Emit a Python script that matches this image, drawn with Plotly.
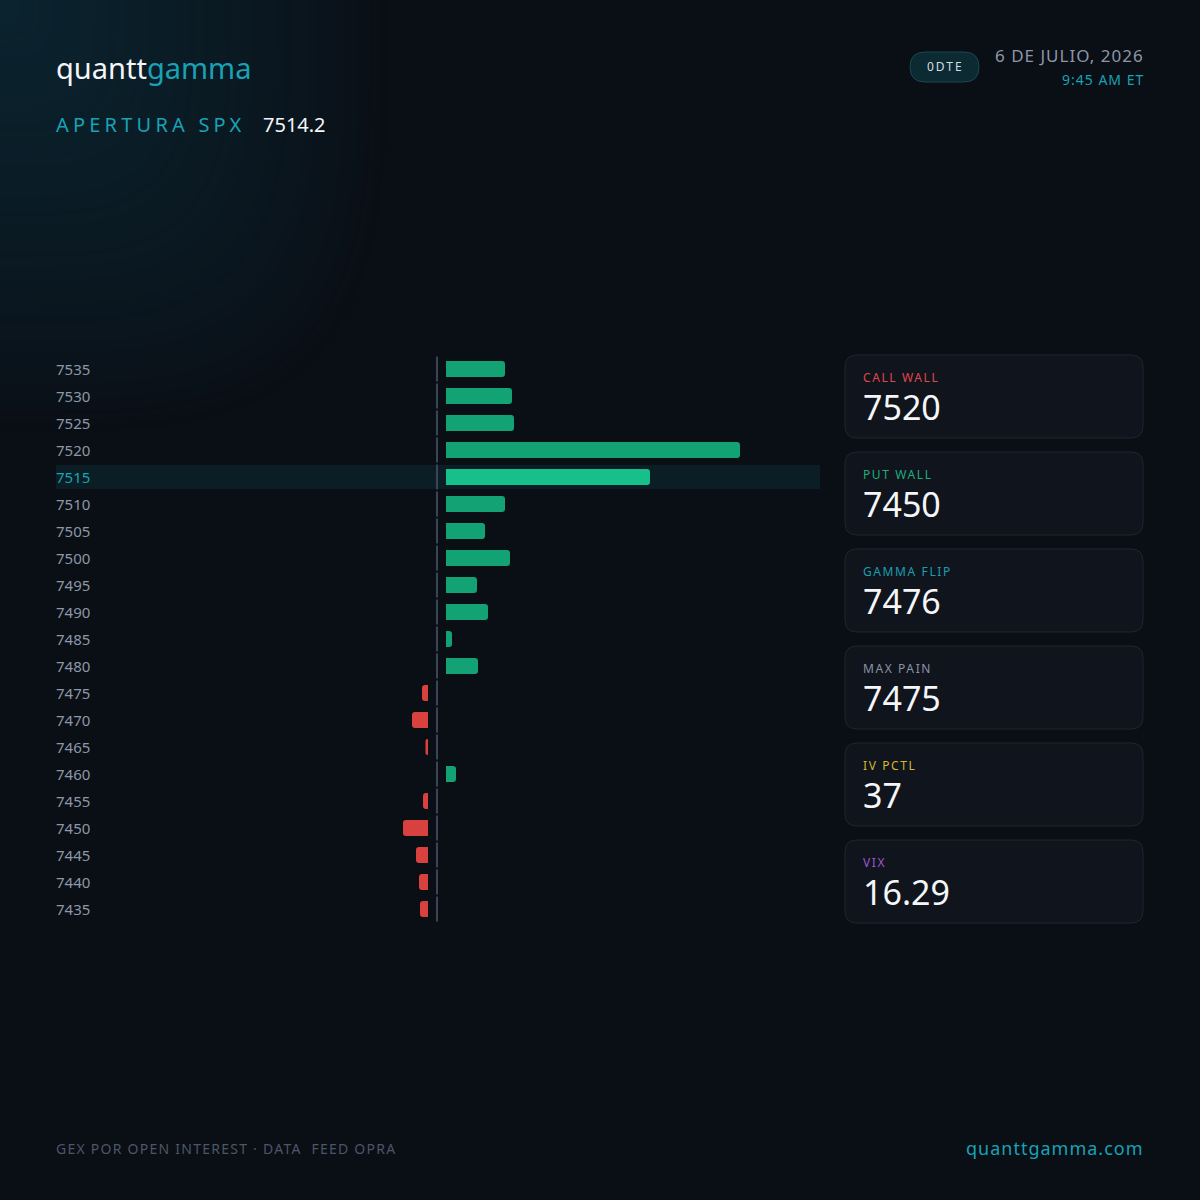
import base64, struct, zlib
import numpy as np
import plotly.graph_objects as go

# ---------------- data ----------------
strikes = [7535, 7530, 7525, 7520, 7515, 7510, 7505, 7500, 7495, 7490, 7485,
           7480, 7475, 7470, 7465, 7460, 7455, 7450, 7445, 7440, 7435]
gex = [5.9, 6.6, 6.8, 29.4, 20.4, 5.9, 3.9, 6.4, 3.1, 4.2, 0.6,
       3.2, -0.6, -1.6, -0.25, 1.0, -0.5, -2.5, -1.2, -0.9, -0.8]
spot_strike = 7515
spot_price = "7514.2"
card_labels = ["CALL WALL", "PUT WALL", "GAMMA FLIP", "MAX PAIN", "IV PCTL", "VIX"]
card_values = ["7520", "7450", "7476", "7475", "37", "16.29"]
card_colors = ["#e0474c", "#1fae7e", "#1a9fb0", "#8a94a6", "#d4b62c", "#9b59d0"]

W = H = 1200
BG = "#0a0e15"
TEAL = "#18a2b6"
FONT = "Noto Sans"


def px(x):
    return x / W


def py(y):
    return 1 - y / H


# ---------------- background glow image ----------------
gw, gh = 420, 460
yy, xx = np.mgrid[0:gh, 0:gw].astype(float)
p = 3.5
t = ((xx / 388.0) ** p + (yy / 432.0) ** p) ** (1 / p)
alpha = np.clip(1 - t, 0, 1) ** 0.75 * 0.85
img = np.zeros((gh, gw, 4), dtype=np.uint8)
img[..., 0] = 11
img[..., 1] = 40
img[..., 2] = 52
img[..., 3] = (alpha * 255).astype(np.uint8)


def png_bytes(arr):
    h, w = arr.shape[:2]
    raw = b"".join(b"\x00" + arr[r].tobytes() for r in range(h))

    def chunk(tag, data):
        return (struct.pack(">I", len(data)) + tag + data +
                struct.pack(">I", zlib.crc32(tag + data) & 0xffffffff))
    return (b"\x89PNG\r\n\x1a\n" +
            chunk(b"IHDR", struct.pack(">IIBBBBB", w, h, 8, 6, 0, 0, 0)) +
            chunk(b"IDAT", zlib.compress(raw, 9)) + chunk(b"IEND", b""))


glow_src = "data:image/png;base64," + base64.b64encode(png_bytes(img)).decode()

# ---------------- figure ----------------
fig = go.Figure()

pos_y = [s for s, v in zip(strikes, gex) if v > 0]
pos_x = [v for v in gex if v > 0]
pos_c = ["#17c08a" if s == spot_strike else "#12a274" for s in pos_y]
neg_y = [s for s, v in zip(strikes, gex) if v < 0]
neg_x = [v for v in gex if v < 0]

fig.add_trace(go.Bar(y=pos_y, x=pos_x, orientation="h", xaxis="x", yaxis="y",
                     width=3.0, marker=dict(color=pos_c, line=dict(width=0), cornerradius=3),
                     hoverinfo="skip", showlegend=False))
fig.add_trace(go.Bar(y=neg_y, x=neg_x, orientation="h", xaxis="x2", yaxis="y",
                     width=3.0, marker=dict(color="#d9413f", line=dict(width=0), cornerradius=3),
                     hoverinfo="skip", showlegend=False))

shapes = []
annotations = []


def ann(x, y, text, size, color=None, xanchor="left", yanchor="middle",
        xref="paper", yref="paper"):
    f = dict(family=FONT, size=size)
    if color:
        f["color"] = color
    annotations.append(dict(xref=xref, yref=yref, x=x, y=y, xanchor=xanchor,
                            yanchor=yanchor, showarrow=False, text=text, align="left",
                            borderpad=0, borderwidth=0, font=f))


def rrect(x0, y0, x1, y1, r):
    X0, X1 = px(x0), px(x1)
    Y0, Y1 = py(y0), py(y1)
    rx, ry = r / W, r / H
    return (f"M {X0+rx},{Y0} L {X1-rx},{Y0} Q {X1},{Y0} {X1},{Y0-ry} "
            f"L {X1},{Y1+ry} Q {X1},{Y1} {X1-rx},{Y1} L {X0+rx},{Y1} "
            f"Q {X0},{Y1} {X0},{Y1+ry} L {X0},{Y0-ry} Q {X0},{Y0} {X0+rx},{Y0} Z")


# highlight row for spot strike
shapes.append(dict(type="rect", xref="paper", yref="y", x0=px(56), x1=px(820),
                   y0=spot_strike - 2.2, y1=spot_strike + 2.2,
                   fillcolor="#0b1d25", line=dict(width=0), layer="below"))

# broken zero line and strike labels
for s in strikes:
    shapes.append(dict(type="line", xref="paper", yref="y", x0=px(437), x1=px(437),
                       y0=s - 2.3, y1=s + 2.3, line=dict(color="#3a4558", width=2)))
    ann(px(56), s, str(s), 15, TEAL if s == spot_strike else "#8d97a8", yref="y")

# cards (label + value in one text block)
for i, (lab, val, col) in enumerate(zip(card_labels, card_values, card_colors)):
    top = 355 + 97 * i
    shapes.append(dict(type="path", xref="paper", yref="paper",
                       path=rrect(845, top, 1143, top + 83, 12),
                       fillcolor="#10141c", line=dict(color="#1f2531", width=1)))
    txt = (f'<span style="font-size:12px;letter-spacing:1.6px;color:{col}">{lab}</span><br>'
           f'<span style="font-size:34px;color:#f4f6f8">{val}</span>')
    ann(px(863), py(top + 14), txt, 29, None, yanchor="top")

# header
ann(px(56), py(68),
    f'<span style="color:#f4f6f8">quantt</span><span style="color:{TEAL}">gamma</span>', 29)
ann(px(56), py(125), '<span style="letter-spacing:4.2px">APERTURA SPX</span>', 20, TEAL)
ann(px(263), py(125), spot_price, 20, "#f4f6f8")

# pill
shapes.append(dict(type="path", xref="paper", yref="paper",
                   path=rrect(910, 52, 979, 82, 15),
                   fillcolor="#0b2a32", line=dict(color="#1b4852", width=1)))
ann(px(945), py(67), '<span style="letter-spacing:2px">0DTE</span>', 12, "#d5dde6",
    xanchor="center")
ann(px(1144), py(56), '<span style="letter-spacing:1px">6 DE JULIO, 2026</span>', 17,
    "#8d97a8", xanchor="right")
ann(px(1144), py(80), '<span style="letter-spacing:1px">9:45 AM ET</span>', 14, TEAL,
    xanchor="right")

# footer
ann(px(56), py(1148),
    '<span style="letter-spacing:1.25px">GEX POR OPEN INTEREST · DATA  FEED OPRA</span>',
    14, "#4c5667")
ann(px(1144), py(1148), '<span style="letter-spacing:1px">quanttgamma.com</span>', 18,
    TEAL, xanchor="right")

ymin, ymax = 7432.5, 7537.5
fig.update_layout(
    width=W, height=H, margin=dict(l=0, r=0, t=0, b=0),
    paper_bgcolor=BG, plot_bgcolor="rgba(0,0,0,0)",
    barmode="overlay", hovermode=False,
    xaxis=dict(domain=[px(446), px(820)], range=[0, 37.4], visible=False, fixedrange=True),
    xaxis2=dict(domain=[px(56), px(428)], range=[-37.2, 0], visible=False,
                fixedrange=True, anchor="y"),
    yaxis=dict(domain=[1 - 922.5 / H, 1 - 355.5 / H], range=[ymin, ymax],
               visible=False, fixedrange=True),
    shapes=shapes, annotations=annotations,
    images=[dict(source=glow_src, xref="paper", yref="paper", x=0, y=1,
                 sizex=gw / W, sizey=gh / H, xanchor="left", yanchor="top",
                 sizing="stretch", layer="below")],
    font=dict(family=FONT),
)

fig.write_html("out.html", config={"displayModeBar": False, "staticPlot": True})
